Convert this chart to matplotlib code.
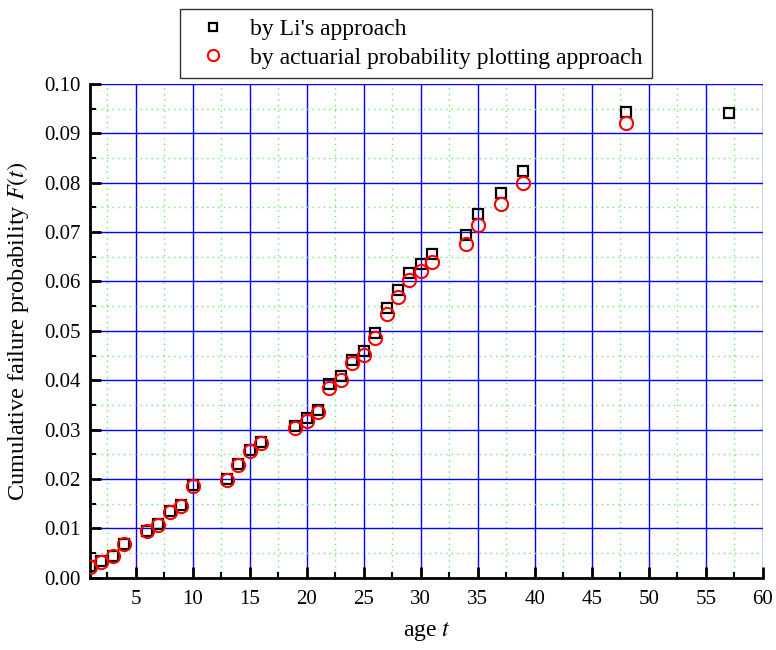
# Cumulative failure probability vs age, two estimation approaches.
import numpy as np
import matplotlib.pyplot as plt
from matplotlib.ticker import MultipleLocator

plt.rcParams["font.family"] = ["Liberation Serif", "DejaVu Serif"]
plt.rcParams["mathtext.fontset"] = "stix"

# ages with recorded failures
age_li = [1, 2, 3, 4, 6, 7, 8, 9, 10, 13, 14, 15, 16, 19, 20, 21, 22, 23, 24,
          25, 26, 27, 28, 29, 30, 31, 34, 35, 37, 39, 48, 57]
F_li = [0.0023, 0.0034, 0.0045, 0.0069, 0.0095, 0.0108, 0.0135, 0.0148,
        0.0187, 0.0201, 0.0230, 0.0259, 0.0274, 0.0308, 0.0323, 0.0340,
        0.0392, 0.0409, 0.0441, 0.0460, 0.0495, 0.0546, 0.0583, 0.0618,
        0.0636, 0.0655, 0.0694, 0.0737, 0.0780, 0.0824, 0.0943, 0.0942]

age_act = [1, 2, 3, 4, 6, 7, 8, 9, 10, 13, 14, 15, 16, 19, 20, 21, 22, 23, 24,
           25, 26, 27, 28, 29, 30, 31, 34, 35, 37, 39, 48]
F_act = [0.0022, 0.0033, 0.0044, 0.0068, 0.0094, 0.0106, 0.0133, 0.0146,
         0.0186, 0.0199, 0.0228, 0.0257, 0.0272, 0.0303, 0.0318, 0.0335,
         0.0384, 0.0401, 0.0434, 0.0451, 0.0485, 0.0535, 0.0569, 0.0603,
         0.0621, 0.0639, 0.0676, 0.0715, 0.0756, 0.0799, 0.0921]

fig = plt.figure(figsize=(7.76, 6.5), dpi=100)
ax = fig.add_axes([0.116, 0.111, 0.867, 0.760])

ax.plot(age_li, F_li, "s", ms=7.5, mfc="none", mec="black", mew=1.6,
        label="by Li's approach", zorder=3)
ax.plot(age_act, F_act, "o", ms=9.5, mfc="none", mec="red", mew=1.5,
        label="by actuarial probability plotting approach", zorder=4)

ax.set_xlim(1, 60)
ax.set_ylim(0, 0.10)
ax.xaxis.set_major_locator(MultipleLocator(5))
ax.xaxis.set_minor_locator(MultipleLocator(2.5))
ax.yaxis.set_major_locator(MultipleLocator(0.01))
ax.yaxis.set_minor_locator(MultipleLocator(0.005))
ax.yaxis.set_major_formatter(plt.FormatStrFormatter("%.2f"))
ax.set_xticks([5, 10, 15, 20, 25, 30, 35, 40, 45, 50, 55, 60])

ax.grid(which="major", color="blue", lw=1.0)
ax.grid(which="minor", color="#66ee66", lw=1.0, ls=(0, (1, 3)))
ax.set_axisbelow(True)

# no grid lines along the far edges of the frame
for tick in ax.xaxis.get_major_ticks():
    if tick.get_loc() >= 60:
        tick.gridline.set_visible(False)
for tick in ax.yaxis.get_major_ticks():
    if tick.get_loc() >= 0.0999:
        tick.gridline.set_visible(False)

for side in ("top", "right"):
    ax.spines[side].set_visible(False)
for side in ("left", "bottom"):
    ax.spines[side].set_linewidth(2)

ax.tick_params(which="major", direction="in", length=8, width=2,
               labelsize=15, pad=7)
ax.tick_params(which="minor", direction="in", length=4, width=1.5)
ax.tick_params(axis="x", pad=9)

ax.set_xlabel("age $t$", fontsize=17, labelpad=8)
ax.set_ylabel("Cumulative failure probability $F(t)$", fontsize=17.5,
              labelpad=9)

fig.legend(loc="upper left", bbox_to_anchor=(0.232, 0.986), fontsize=17,
           frameon=True, fancybox=False, edgecolor="black",
           borderpad=0.4, handletextpad=0.55, labelspacing=0.3,
           borderaxespad=0, markerscale=0.85)

fig.savefig("out.png", dpi=100)
